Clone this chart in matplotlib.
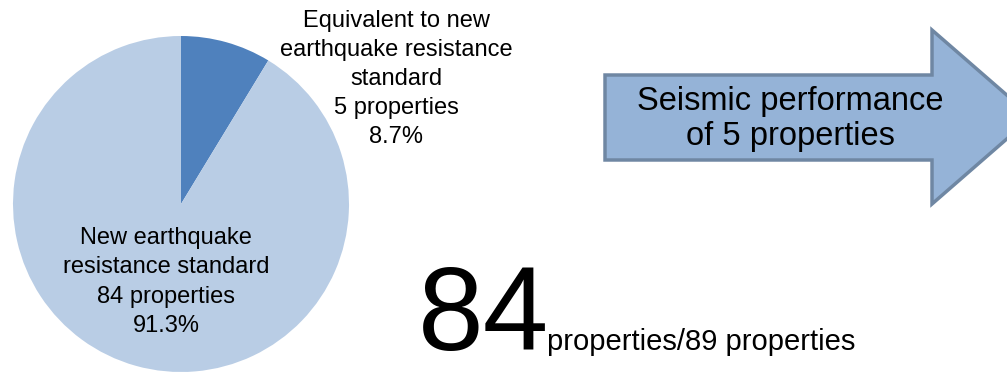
import matplotlib
matplotlib.use("Agg")
import matplotlib.pyplot as plt
from matplotlib.patches import Polygon

plt.rcParams['font.family'] = ['Liberation Sans', 'DejaVu Sans']

# building counts by seismic standard
categories = ["Equivalent to new\nearthquake resistance\nstandard", "New earthquake\nresistance standard"]
counts = [5, 84]
shares = [8.7, 91.3]
colors = ["#4F81BD", "#B9CDE5"]
total_checked = 89

W, H = 1007, 372
fig = plt.figure(figsize=(W / 100, H / 100), dpi=100)
ax = fig.add_axes([0, 0, 1, 1])

# pie, drawn in pixel-like coordinates (y measured from the bottom)
cx, cy, r = 181, H - 204, 168
ax.pie(shares, colors=colors, startangle=90, counterclock=False,
       center=(cx, cy), radius=r, frame=True,
       wedgeprops=dict(linewidth=0))
ax.set_xlim(0, W)
ax.set_ylim(0, H)
ax.set_aspect("auto")
ax.axis("off")

label_pos = [(396, H - 79), (166, H - 282)]
for cat, n, s, (x, y) in zip(categories, counts, shares, label_pos):
    ax.text(x, y, f"{cat}\n{n} properties\n{s:.1f}%", ha="center", va="center",
            fontsize=17, linespacing=1.42, color="black")

# block arrow on the right
arrow = Polygon([(605, H - 75), (932, H - 75), (932, H - 30), (1032, H - 117),
                 (932, H - 204), (932, H - 160), (605, H - 160)],
                closed=True, facecolor="#95B3D7", edgecolor="#6F87A3",
                linewidth=2.5, joinstyle="miter")
ax.add_patch(arrow)
ax.text(790, H - 119, f"Seismic performance\nof {counts[0]} properties",
        ha="center", va="center", fontsize=23.5, linespacing=1.15)

# big number summary
ax.text(418, H - 350, f"{counts[1]}", fontsize=85, ha="left", va="baseline")
ax.text(547, H - 350, f"properties/{total_checked} properties",
        fontsize=21, ha="left", va="baseline")

fig.savefig("out.png", dpi=100)
